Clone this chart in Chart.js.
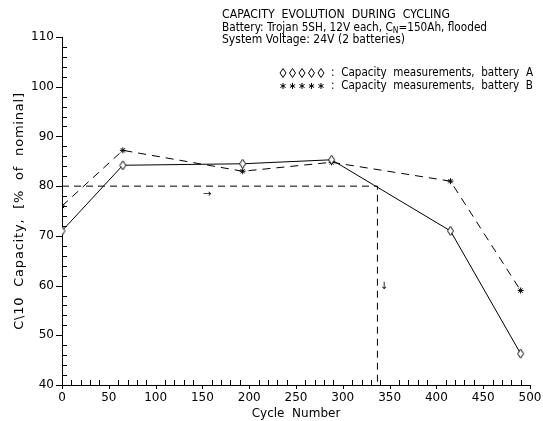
<!DOCTYPE html>
<html>
<head>
<meta charset="utf-8">
<script src="https://cdn.jsdelivr.net/npm/chart.js@4"></script>
<style>
  html, body { margin: 0; padding: 0; background: #fff; }
  #wrap { width: 543px; height: 421px; }
</style>
</head>
<body>
<div id="wrap"><canvas id="cap-chart"></canvas></div>
<script>
// capacity evolution during cycling - Trojan 5SH

const cyclesA = [0, 65, 193, 288, 415, 490];
const capacityA = [71, 84.2, 84.5, 85.3, 71, 46.3];
const cyclesB = [0, 65, 193, 288, 415, 490];
const capacityB = [76, 87.2, 83, 84.8, 81, 59];

// 80% end-of-life threshold and the cycle where it is reached
const guideX = [0, 337, 337];
const guideY = [80, 80, 40];

// small arrow annotations [cycle, capacity, glyph]
const arrowNotes = [[155, 78.3, '→'], [344, 59.8, '↓']];

const xTicks = [0, 50, 100, 150, 200, 250, 300, 350, 400, 450, 500];
const yTicks = [40, 50, 60, 70, 80, 90, 100, 110];

const titleLines = [
    'CAPACITY  EVOLUTION  DURING  CYCLING',
    'Battery: Trojan 5SH, 12V each, C|N|=150Ah, flooded',
    'System Voltage: 24V (2 batteries)'
];
const legendA = ':  Capacity  measurements,  battery  A';
const legendB = ':  Capacity  measurements,  battery  B';
const yTitle = 'C\\10  Capacity,  [%  of  nominal]';

const FONT = '"DejaVu Sans", sans-serif';

function toPoints(xs, ys) {
    return xs.map((x, i) => ({ x: x, y: ys[i] }));
}

// tall open diamond like the original plotter symbol
function diamondPath(c, x, y) {
    c.beginPath();
    c.moveTo(x, y - 4.5);
    c.lineTo(x + 3, y);
    c.lineTo(x, y + 4.5);
    c.lineTo(x - 3, y);
    c.closePath();
}
const diamond = document.createElement('canvas');
diamond.width = 9; diamond.height = 11;
(function() {
    const c = diamond.getContext('2d');
    c.fillStyle = '#fff';
    c.strokeStyle = '#000';
    c.lineWidth = 1;
    diamondPath(c, 4.5, 5.5);
    c.fill();
    c.stroke();
})();

function drawStar(ctx, x, y, r) {
    ctx.beginPath();
    for (let a = 0; a < 3; a++) {
        const ang = a * Math.PI / 3 + Math.PI / 2;
        ctx.moveTo(x + r * Math.cos(ang), y + r * Math.sin(ang));
        ctx.lineTo(x - r * Math.cos(ang), y - r * Math.sin(ang));
    }
    ctx.stroke();
}

// draw a line of text (with optional |subscript|) squeezed to a given width
function fitText(ctx, line, x, y, width, size) {
    const main = size + 'px ' + FONT, sub = (size * 0.72) + 'px ' + FONT;
    const parts = line.split('|');
    let natural = 0;
    parts.forEach((p, j) => {
        ctx.font = j === 1 ? sub : main;
        natural += ctx.measureText(p).width;
    });
    ctx.save();
    ctx.translate(x, y);
    ctx.scale(width / natural, 1);
    let cx = 0;
    parts.forEach((p, j) => {
        ctx.font = j === 1 ? sub : main;
        ctx.fillText(p, cx, j === 1 ? 2 : 0);
        cx += ctx.measureText(p).width;
    });
    ctx.restore();
}

// title, legend, axis ticks, y title and arrows
const decorPlugin = {
    id: 'decor',
    afterDraw(chart) {
        const ctx = chart.ctx;
        const xs = chart.scales.x, ys = chart.scales.y;
        const area = chart.chartArea;
        ctx.save();
        ctx.fillStyle = '#000';
        ctx.strokeStyle = '#000';
        ctx.lineWidth = 1;

        // ticks: majors point out, minors point in
        for (let v = 0; v <= 500; v += 10) {
            const px = Math.round(xs.getPixelForValue(v)) + 0.5;
            ctx.beginPath();
            if (v % 50 === 0) { ctx.moveTo(px, area.bottom); ctx.lineTo(px, area.bottom + 4); }
            else { ctx.moveTo(px, area.bottom); ctx.lineTo(px, area.bottom - 5); }
            ctx.stroke();
        }
        for (let v = 40; v <= 110; v += 2) {
            const py = Math.round(ys.getPixelForValue(v)) + 0.5;
            ctx.beginPath();
            if (v % 10 === 0) { ctx.moveTo(area.left, py); ctx.lineTo(area.left - 6, py); }
            else { ctx.moveTo(area.left, py); ctx.lineTo(area.left + 5, py); }
            ctx.stroke();
        }

        // y title
        ctx.save();
        ctx.translate(20, (area.top + area.bottom) / 2);
        ctx.rotate(-Math.PI / 2);
        ctx.font = '13px ' + FONT;
        ctx.letterSpacing = '0.8px';
        ctx.textAlign = 'center';
        ctx.textBaseline = 'middle';
        ctx.fillText(yTitle, 0, 0);
        ctx.letterSpacing = '0px';
        ctx.restore();
        ctx.letterSpacing = '0px';

        // title block
        ctx.textBaseline = 'alphabetic';
        ctx.textAlign = 'left';
        const ty = [18, 31, 43];
        const tw = [228, 265, 183];
        titleLines.forEach((line, i) => fitText(ctx, line, 222, ty[i], tw[i], 11.5));

        // legend
        const ly = [73, 86];
        for (let k = 0; k < 5; k++) {
            const mx = 283 + k * 9.5;
            diamondPath(ctx, mx, ly[0]);
            ctx.stroke();
            drawStar(ctx, mx, ly[1], 3);
        }
        ctx.textBaseline = 'middle';
        fitText(ctx, legendA, 331, ly[0], 202, 11.5);
        fitText(ctx, legendB, 331, ly[1], 202, 11.5);

        // arrows
        ctx.font = '10px ' + FONT;
        ctx.textAlign = 'center';
        arrowNotes.forEach(a => {
            ctx.fillText(a[2], xs.getPixelForValue(a[0]), ys.getPixelForValue(a[1]));
        });
        ctx.restore();
    }
};

const ctx = document.getElementById('cap-chart');
new Chart(ctx, {
    type: 'line',
    data: {
        datasets: [
            {
                label: 'battery A',
                data: toPoints(cyclesA, capacityA),
                borderColor: '#000',
                borderWidth: 1,
                pointStyle: diamond,
                tension: 0
            },
            {
                label: 'battery B',
                data: toPoints(cyclesB, capacityB),
                borderColor: '#000',
                borderWidth: 1,
                borderDash: [8, 6],
                pointStyle: 'star',
                pointRadius: 3,
                pointBorderWidth: 1,
                pointBorderColor: '#000',
                tension: 0
            },
            {
                label: 'threshold',
                data: toPoints(guideX, guideY),
                borderColor: '#000',
                borderWidth: 1,
                borderDash: [7, 5],
                pointRadius: 0,
                tension: 0
            }
        ]
    },
    options: {
        responsive: true,
        maintainAspectRatio: false,
        animation: false,
        layout: { padding: { top: 37, right: 13, left: 0, bottom: 0 } },
        plugins: {
            legend: { display: false },
            tooltip: { enabled: false }
        },
        scales: {
            x: {
                type: 'linear',
                min: 0,
                max: 500,
                afterBuildTicks: s => { s.ticks = xTicks.map(v => ({ value: v })); },
                afterFit: s => { s.height = 36; s.paddingRight = 0; s.paddingLeft = 0; },
                grid: { display: false, drawTicks: false },
                border: { display: true, color: '#000', width: 1 },
                ticks: { color: '#000', padding: 6, maxRotation: 0, font: { family: FONT, size: 12 } },
                title: {
                    display: true,
                    text: 'Cycle  Number',
                    color: '#000',
                    padding: 0,
                    font: { family: FONT, size: 12 }
                }
            },
            y: {
                min: 40,
                max: 110,
                afterBuildTicks: s => { s.ticks = yTicks.map(v => ({ value: v })); },
                afterFit: s => { s.width = 62; s.paddingTop = 0; s.paddingBottom = 0; },
                grid: { display: false, drawTicks: false },
                border: { display: true, color: '#000', width: 1 },
                ticks: { color: '#000', padding: 8, font: { family: FONT, size: 12 } }
            }
        }
    },
    plugins: [decorPlugin]
});
</script>
</body>
</html>
